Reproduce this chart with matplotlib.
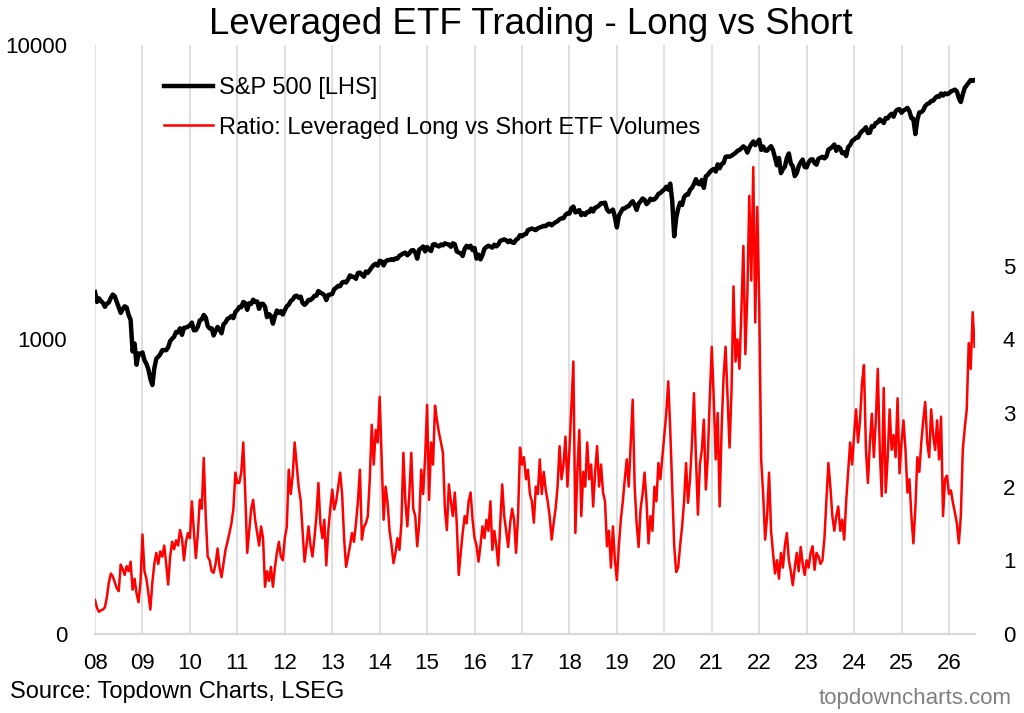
import matplotlib.pyplot as plt
import numpy as np
from matplotlib.ticker import FixedLocator, NullLocator

plt.rcParams["font.family"] = ["Liberation Sans", "DejaVu Sans"]

# semi-monthly readings (mid-month, month-end), first value is the 2008 start
spx_start = [1447]
spx = {
    2008: [1340, 1378, 1350, 1330, 1290, 1322, 1335, 1385, 1420, 1400, 1340, 1280,
           1230, 1267, 1295, 1283, 1210, 1166, 910, 968, 820, 896, 890, 903],
    2009: [850, 826, 790, 735, 700, 798, 860, 873, 890, 919, 920, 919,
           940, 987, 1005, 1021, 1060, 1057, 1090, 1036, 1095, 1096, 1105, 1115],
    2010: [1140, 1074, 1075, 1104, 1160, 1169, 1210, 1187, 1110, 1089, 1090, 1031,
           1070, 1102, 1080, 1049, 1125, 1141, 1175, 1183, 1200, 1181, 1240, 1258],
    2011: [1290, 1286, 1340, 1327, 1260, 1326, 1320, 1364, 1340, 1345, 1270, 1321,
           1320, 1292, 1190, 1219, 1200, 1131, 1200, 1253, 1230, 1247, 1215, 1258],
    2012: [1295, 1312, 1350, 1366, 1400, 1408, 1385, 1398, 1330, 1310, 1330, 1362,
           1360, 1379, 1405, 1407, 1460, 1441, 1430, 1412, 1360, 1416, 1420, 1426],
    2013: [1480, 1498, 1520, 1515, 1560, 1569, 1560, 1598, 1650, 1631, 1630, 1606,
           1680, 1686, 1660, 1633, 1700, 1682, 1720, 1757, 1790, 1806, 1780, 1848],
    2014: [1840, 1783, 1840, 1859, 1860, 1872, 1860, 1884, 1880, 1924, 1940, 1960,
           1970, 1931, 1960, 2003, 2010, 1972, 1880, 2018, 2040, 2068, 1990, 2059],
    2015: [2020, 1995, 2100, 2105, 2080, 2068, 2100, 2086, 2120, 2107, 2100, 2063,
           2120, 2104, 1990, 1972, 1960, 1920, 2030, 2079, 2050, 2080, 2010, 2044],
    2016: [1880, 1940, 1870, 1932, 2030, 2060, 2080, 2065, 2050, 2097, 2070, 2099,
           2160, 2174, 2185, 2171, 2140, 2168, 2135, 2126, 2180, 2199, 2260, 2239],
    2017: [2270, 2279, 2350, 2364, 2380, 2363, 2350, 2384, 2400, 2412, 2430, 2423,
           2460, 2470, 2440, 2472, 2500, 2519, 2560, 2575, 2580, 2648, 2680, 2674],
    2018: [2790, 2824, 2700, 2714, 2750, 2641, 2680, 2648, 2710, 2705, 2780, 2718,
           2800, 2816, 2850, 2902, 2900, 2914, 2760, 2712, 2730, 2760, 2600, 2400],
    2019: [2630, 2704, 2780, 2784, 2820, 2834, 2900, 2946, 2860, 2752, 2890, 2942,
           3010, 2980, 2880, 2926, 3005, 2977, 2990, 3038, 3120, 3141, 3190, 3231],
    2020: [3300, 3226, 3380, 2954, 2240, 2585, 2780, 2912, 2860, 3044, 3100, 3100,
           3220, 3271, 3370, 3500, 3380, 3363, 3480, 3270, 3580, 3622, 3700, 3756],
    2021: [3790, 3714, 3930, 3811, 3940, 3973, 4170, 4181, 4170, 4204, 4250, 4298,
           4370, 4395, 4460, 4523, 4470, 4308, 4470, 4605, 4700, 4567, 4670, 4766],
    2022: [4400, 4516, 4380, 4374, 4460, 4530, 4390, 4132, 3900, 4132, 3670, 3785,
           3860, 4130, 4280, 3955, 3870, 3586, 3670, 3872, 3990, 4080, 3850, 3840],
    2023: [3990, 4077, 4090, 3970, 3920, 4109, 4140, 4169, 4120, 4180, 4410, 4450,
           4510, 4589, 4370, 4508, 4450, 4288, 4320, 4194, 4500, 4568, 4720, 4770],
    2024: [4840, 4846, 5000, 5096, 5150, 5254, 5020, 5036, 5300, 5278, 5430, 5460,
           5590, 5522, 5430, 5648, 5630, 5762, 5840, 5705, 5950, 6032, 6050, 5882],
    2025: [5990, 6041, 6110, 5955, 5640, 5612, 4980, 5569, 5900, 5912, 6000, 6205,
           6300, 6339, 6450, 6460, 6600, 6688, 6660, 6840, 6730, 6850, 6800, 6850],
    2026: [6950, 7000, 7050, 6950, 6600, 6400, 6800, 7150, 7300, 7450, 7600, 7550, 7600],
}

ratio_start = [0.46]
ratio = {
    2008: [0.35, 0.30, 0.32, 0.33, 0.36, 0.50, 0.70, 0.82, 0.78, 0.70, 0.62, 0.58,
           0.94, 0.88, 0.80, 0.92, 0.85, 0.98, 0.60, 0.75, 0.55, 0.43, 0.70, 1.35],
    2009: [0.85, 0.75, 0.55, 0.33, 0.70, 0.95, 1.10, 0.95, 1.12, 1.05, 1.20, 0.95,
           0.67, 1.05, 1.25, 1.15, 1.27, 1.20, 1.41, 1.30, 1.00, 1.25, 1.37, 1.30],
    2010: [1.80, 1.40, 1.03, 1.35, 1.82, 1.70, 2.39, 1.60, 1.05, 1.00, 0.85, 0.83,
           0.95, 1.16, 0.90, 0.77, 0.95, 1.14, 1.25, 1.37, 1.50, 1.70, 2.19, 2.05],
    2011: [2.05, 2.20, 2.60, 1.90, 1.10, 1.40, 1.70, 1.82, 1.55, 1.37, 1.20, 1.46,
           1.30, 0.64, 0.85, 0.72, 0.91, 0.64, 0.90, 1.10, 1.25, 1.05, 1.00, 1.30],
    2012: [1.45, 2.23, 1.90, 2.15, 2.60, 2.30, 2.00, 1.82, 1.40, 0.98, 1.20, 1.46,
           1.20, 1.05, 1.30, 1.60, 2.05, 1.50, 1.30, 1.55, 0.93, 1.40, 1.70, 1.96],
    2013: [1.69, 1.80, 2.00, 2.19, 1.90, 1.30, 0.91, 1.05, 1.20, 1.37, 1.25, 1.50,
           1.80, 2.23, 1.28, 1.45, 1.50, 1.60, 2.10, 2.84, 2.30, 2.77, 2.60, 3.22],
    2014: [2.40, 1.55, 2.00, 1.78, 1.40, 1.20, 0.96, 1.10, 1.30, 1.14, 1.50, 2.46,
           1.80, 1.46, 1.90, 2.46, 1.70, 1.60, 1.19, 1.50, 2.23, 1.90, 2.40, 3.11],
    2015: [1.82, 2.60, 2.30, 3.10, 2.90, 2.73, 2.60, 2.46, 1.70, 1.41, 2.03, 1.80,
           1.60, 1.92, 1.50, 0.80, 1.10, 1.37, 1.60, 1.50, 1.80, 1.92, 1.55, 1.30],
    2016: [1.20, 0.98, 1.20, 1.46, 1.30, 1.55, 1.40, 1.80, 1.14, 1.40, 1.20, 0.93,
           1.50, 2.03, 1.60, 1.40, 1.18, 1.50, 1.70, 1.55, 1.10, 1.60, 2.53, 2.30],
    2017: [2.40, 2.10, 2.23, 1.90, 1.80, 1.51, 2.00, 1.90, 2.37, 1.90, 2.20, 1.96,
           1.80, 1.60, 1.28, 1.50, 1.70, 2.00, 2.55, 2.10, 2.30, 2.68, 2.00, 2.50],
    2018: [3.10, 3.70, 1.37, 2.20, 2.77, 1.60, 2.20, 2.00, 2.60, 2.10, 2.30, 1.73,
           2.20, 2.55, 2.00, 2.30, 1.92, 1.80, 1.19, 1.40, 0.90, 1.46, 1.00, 0.73],
    2019: [1.20, 1.55, 1.80, 2.10, 2.37, 2.00, 2.60, 3.18, 2.00, 1.50, 1.18, 1.70,
           1.90, 2.19, 1.80, 1.23, 1.60, 1.40, 2.00, 1.80, 2.32, 2.10, 2.40, 2.70],
    2020: [3.00, 3.43, 2.77, 2.00, 1.20, 0.84, 0.90, 1.20, 1.46, 1.80, 2.32, 1.78,
           2.10, 2.60, 3.27, 2.40, 1.62, 2.30, 2.50, 2.91, 1.96, 2.40, 3.20, 3.90],
    2021: [3.20, 2.37, 3.00, 1.73, 2.80, 3.50, 3.90, 3.20, 2.53, 3.30, 4.72, 3.70,
           4.00, 3.60, 4.40, 5.27, 3.80, 4.60, 5.95, 4.80, 6.34, 4.23, 5.80, 4.50],
    2022: [2.37, 1.90, 1.28, 1.60, 2.19, 1.40, 1.10, 0.82, 1.00, 0.75, 1.10, 0.90,
           1.20, 1.37, 1.00, 0.85, 0.66, 0.90, 1.10, 0.85, 1.18, 0.95, 0.80, 1.00],
    2023: [0.90, 1.10, 1.19, 0.87, 1.10, 1.05, 0.95, 1.00, 1.30, 1.80, 2.32, 2.00,
           1.60, 1.40, 1.60, 1.73, 1.40, 1.55, 1.28, 1.80, 2.20, 2.60, 2.30, 2.70],
    2024: [3.05, 2.60, 2.90, 3.40, 3.65, 2.50, 2.05, 2.60, 2.99, 2.40, 2.90, 3.60,
           2.50, 1.87, 3.34, 1.92, 2.40, 3.05, 2.50, 2.70, 2.40, 3.20, 2.18, 2.60],
    2025: [2.90, 2.50, 1.92, 2.10, 1.60, 1.23, 1.70, 2.40, 2.20, 2.60, 2.90, 3.15,
           2.60, 2.40, 3.05, 2.70, 2.50, 2.90, 2.37, 2.95, 1.60, 2.10, 2.15, 1.90],
    2026: [1.95, 1.78, 1.65, 1.50, 1.23, 1.60, 2.50, 2.80, 3.05, 3.95, 3.60, 4.37, 3.90],
}

years = list(range(2008, 2027))
year_labels = [f"{y % 100:02d}" for y in years]

spx_vals = np.array(spx_start + [v for y in years for v in spx[y]], dtype=float)
ratio_vals = np.array(ratio_start + [v for y in years for v in ratio[y]], dtype=float)
t = 2008 + np.arange(len(spx_vals)) / 24.0

fig = plt.figure(figsize=(10.24, 7.13), dpi=100)
ax = fig.add_axes([0.0928, 0.111, 0.8594, 0.826])
ax2 = ax.twinx()

for yr in years:
    ax.axvline(yr, color="#d9d9d9", lw=1.2, zorder=0)

l1, = ax.plot(t, spx_vals, color="black", lw=3.2, label="S&P 500 [LHS]", zorder=3)
l2, = ax2.plot(t, ratio_vals, color="#ff0000", lw=1.8,
               label="Ratio: Leveraged Long vs Short ETF Volumes", zorder=3)

ax.set_yscale("log")
ax.set_ylim(100, 10000)
ax.yaxis.set_major_locator(FixedLocator([100, 1000, 10000]))
ax.yaxis.set_minor_locator(NullLocator())
ax.set_yticklabels(["0", "1000", "10000"])
ax2.set_ylim(0, 8)
ax2.set_yticks([0, 1, 2, 3, 4, 5])

ax.set_xlim(2008, 2026.55)
ax.set_xticks(years)
ax.set_xticklabels(year_labels)

for a in (ax, ax2):
    for s in ("top", "left", "right"):
        a.spines[s].set_visible(False)
    a.spines["bottom"].set_color("#d9d9d9")
    a.spines["bottom"].set_linewidth(1.5)
    a.tick_params(length=0, labelsize=16)
ax.tick_params(axis="x", pad=14)
ax.tick_params(axis="y", pad=20)
ax2.tick_params(axis="y", pad=20)

ax2.legend(handles=[l1, l2], loc="upper left", bbox_to_anchor=(0.054, 0.982),
           frameon=False, fontsize=17, handlelength=2.1, handletextpad=0.25,
           labelspacing=0.76)

fig.text(0.518, 0.966, "Leveraged ETF Trading - Long vs Short", ha="center",
         va="center", fontsize=26.4)
fig.text(0.01, 0.029, "Source: Topdown Charts, LSEG", ha="left", va="center",
         fontsize=17)
fig.text(0.988, 0.021, "topdowncharts.com", ha="right", va="center",
         fontsize=16, color="#808080")

plt.savefig("out.png", dpi=100)
